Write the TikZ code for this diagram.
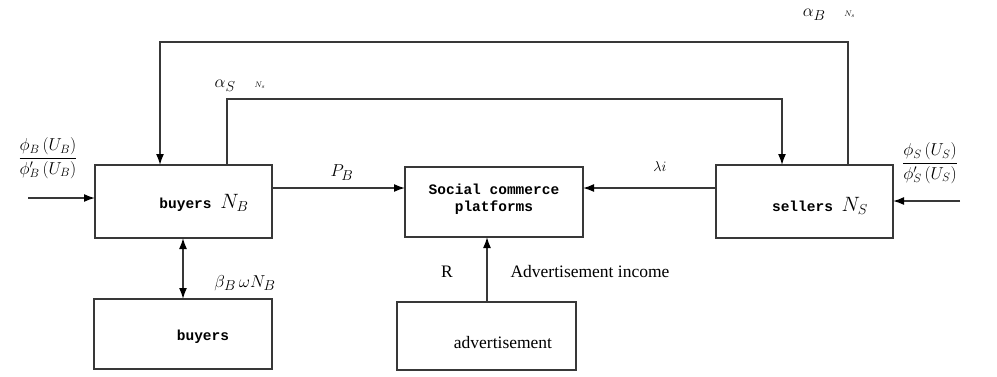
\documentclass[tikz,border=0pt]{standalone}
\usepackage{fontspec}
\setmainfont{Liberation Serif}
\setmonofont{Liberation Mono}
\usetikzlibrary{arrows.meta}
\definecolor{linegray}{HTML}{383838}
\begin{document}
\begin{tikzpicture}[x=1pt,y=-1pt,
  box/.style={draw=linegray,line width=1.6pt,anchor=north west,inner sep=0pt,outer sep=0pt},
  conn/.style={draw=linegray,line width=1.6pt},
  tip/.tip={Latex[length=11pt,width=8pt,color=black]},
  arr/.style={conn,-tip},
  darr/.style={conn,tip-tip},
  boxtxt/.style={font=\ttfamily\bfseries\fontsize{14.5}{17}\selectfont},
  sertxt/.style={font=\fontsize{17.5}{20}\selectfont},
  mathlbl/.style={font=\fontsize{19}{22}\selectfont},
  fraclbl/.style={font=\fontsize{18}{21}\selectfont}]
\useasboundingbox (0,0) rectangle (997,376);

% boxes
\node[box,minimum width=177pt,minimum height=73pt] (buyers) at (95,165) {};
\node[box,minimum width=178pt,minimum height=70pt] (social) at (405,167) {};
\node[box,minimum width=177pt,minimum height=73pt] (sellers) at (716,165) {};
\node[box,minimum width=178pt,minimum height=70pt] (bbuyers) at (94,299) {};
\node[box,minimum width=179pt,minimum height=68pt] (ad) at (397,302) {};

% box texts
\node[boxtxt] (tbuyers) at (204,203) {buyers \fontsize{20}{22}\selectfont$N_B$};
\node[boxtxt,align=center] (tsocial) at (494,199) {Social commerce\\platforms};
\node[boxtxt] (tsellers) at (820,206) {sellers \fontsize{20}{22}\selectfont$N_S$};
\node[boxtxt] (tbbuyers) at (203,337) {buyers};
\node[sertxt] (tad) at (503,343) {advertisement};

% coordinates
\coordinate (t1) at (848,42);
\coordinate (t2) at (160,42);
\coordinate (i1) at (227,99);
\coordinate (i2) at (782,99);
\coordinate (py) at (0,188);
\coordinate (lin) at (28,198);
\coordinate (rin) at (960,201);
\coordinate (dv) at (183,0);
\coordinate (av) at (487,0);

% connectors
\draw[arr] (t1 |- sellers.north) -- (t1) -- (t2) -- (t2 |- buyers.north);
\draw[arr] (i1 |- buyers.north) -- (i1) -- (i2) -- (i2 |- sellers.north);
\draw[arr] (buyers.east |- py) -- (social.west |- py);
\draw[arr] (sellers.west |- py) -- (social.east |- py);
\draw[arr] (lin) -- (buyers.west |- lin);
\draw[arr] (rin) -- (sellers.east |- rin);
\draw[darr] (dv |- buyers.south) -- (dv |- bbuyers.north);
\draw[arr] (av |- ad.north) -- (av |- social.south);

% labels
\node[mathlbl] (laS) at (240,86) {$\alpha_S$\quad{\footnotesize$N_s$}};
\node[mathlbl] (laB) at (829,15) {$\alpha_B$\quad{\footnotesize$N_s$}};
\node[mathlbl] (lPB) at (342,173) {$P_B$};
\node[font=\fontsize{14}{16}\selectfont] (llam) at (660,166) {$\lambda i$};
\node[fraclbl] (lfl) at (48,158) {$\displaystyle\frac{\phi_B\,(U_B)}{\phi'_B\,(U_B)}$};
\node[fraclbl] (lfr) at (930,163) {$\displaystyle\frac{\phi_S\,(U_S)}{\phi'_S\,(U_S)}$};
\node[mathlbl] (lbeta) at (245,283) {$\beta_B\,\omega N_B$};
\node[sertxt] (lR) at (447,272) {R};
\node[sertxt] (linc) at (590,272) {Advertisement income};
\end{tikzpicture}
\end{document}
